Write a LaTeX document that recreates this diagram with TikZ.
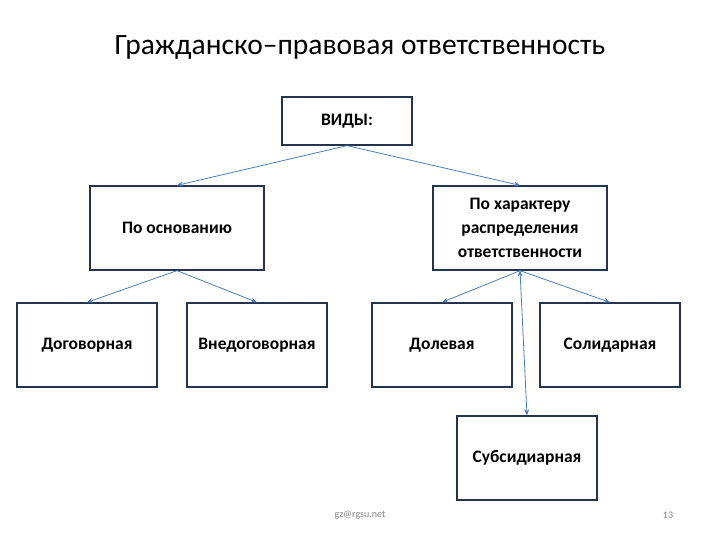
\documentclass[tikz,border=0pt]{standalone}
\usepackage{fontspec}
\setmainfont{Carlito}
\usetikzlibrary{positioning, arrows.meta}
\definecolor{linkblue}{RGB}{74,126,187}
\definecolor{boxnavy}{RGB}{36,52,80}

\begin{document}
\begin{tikzpicture}[x=1pt, y=-1pt, >={Stealth[length=6pt,width=5pt]}]
                \tikzset{box/.style={draw=boxnavy, line width=1.3pt, fill=white, minimum width=140pt, minimum height=84pt, align=center, font=\bfseries\fontsize{17.5}{24}\selectfont},
                         link/.style={->, draw=linkblue, line width=0.8pt}}
                \useasboundingbox (0,0) rectangle (720,540);

                % TITLE
                \node (title) at (360,47) {\fontsize{29.5}{34}\selectfont Гражданско–правовая ответственность};

                % BOXES
                \node[box, minimum width=130pt, minimum height=48pt] (vid) at (347,121) {ВИДЫ:};
                \node[box, minimum width=174pt] (osn) at (177,228) {По основанию};
                \node[box, minimum width=174pt] (har) at (520,228) {По характеру\\распределения\\ответственности};
                \node[box] (dog) at (87,345) {Договорная};
                \node[box] (vne) at (257,345) {Внедоговорная};
                \node[box] (dol) at (442,345) {Долевая};
                \node[box] (sol) at (610,345) {Солидарная};
                \node[box] (sub) at (527,458) {Субсидиарная};

                % LINKS
                \path[link]
                    (vid.south) edge (osn.north)
                    (vid.south) edge (har.north)
                    (osn.south) edge (dog.north)
                    (osn.south) edge (vne.north)
                    (har.south) edge (dol.north)
                    (har.south) edge (sol.north)
                    (har.south) edge (sub.north);

                % FOOTER
                \node[text=gray, font=\fontsize{10}{12}\selectfont] (mail) at (360,515) {gz@rgsu.net};
                \node[text=gray, font=\fontsize{10}{12}\selectfont] (page) at (668,515) {13};
            \end{tikzpicture}
\end{document}
